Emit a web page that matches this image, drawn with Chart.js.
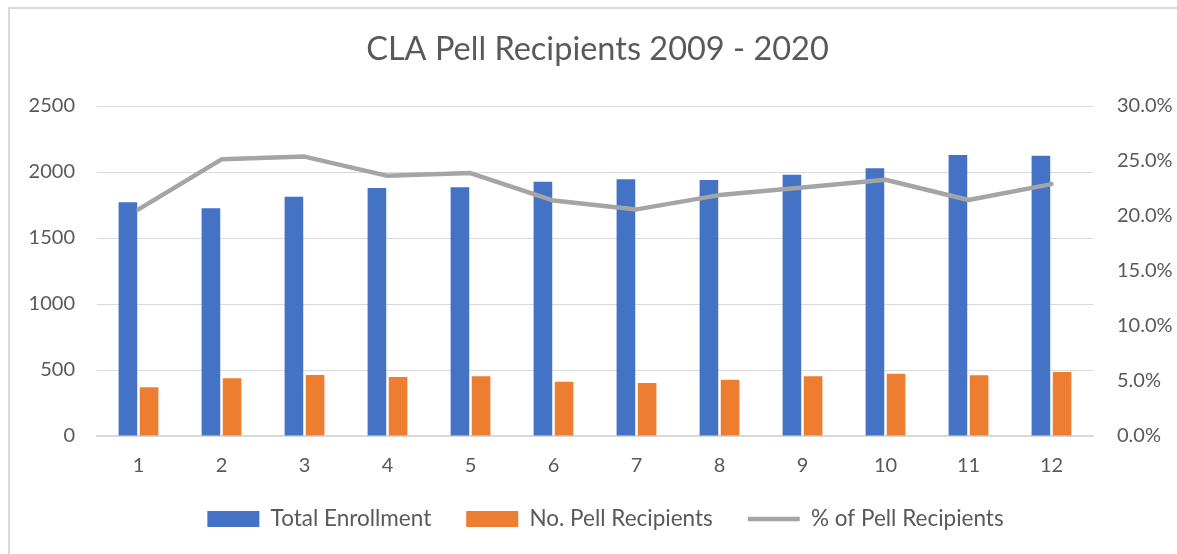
<!DOCTYPE html>
<html>
<head>
<meta charset="utf-8">
<script src="https://cdn.jsdelivr.net/npm/chart.js"></script>
<style>
    html, body { margin: 0; padding: 0; background: #ffffff; }
    #wrap { position: relative; width: 1177px; height: 554px; overflow: hidden; }
    #frame { position: absolute; left: 8px; top: 7px; width: 1300px; height: 700px; border: 2px solid #d9d9d9; box-sizing: border-box; }
    canvas { position: absolute; left: 0; top: 0; }
</style>
</head>
<body>
<div id="wrap">
    <div id="frame"></div>
    <canvas id="Chart1" width="1177" height="554"></canvas>
</div>
<script>
const years = ["1", "2", "3", "4", "5", "6", "7", "8", "9", "10", "11", "12"];
const total_enrollment = [1770, 1725, 1813, 1879, 1884, 1927, 1945, 1939, 1980, 2028, 2129, 2123];
const pell_recipients = [369, 437, 462, 447, 452, 411, 401, 427, 452, 472, 460, 485];
const pell_percent = [20.6, 25.15, 25.4, 23.65, 23.9, 21.4, 20.6, 21.9, 22.6, 23.3, 21.45, 22.9];

const font_family = "Lato, 'Open Sans', sans-serif";
const text_color = "#595959";
const grid_color = "#d9d9d9";

Chart.defaults.font.family = font_family;
Chart.defaults.color = text_color;

// Excel puts title and legend a bit right of the canvas middle, legend a bit higher
const box_shift = {
    id: "box_shift",
    afterLayout(chart) {
        chart.legend.left += 34;
        chart.legend.top -= 13.75;
        chart.legend.bottom -= 13.75;
        chart.titleBlock.left += 18;
    }
};

const ctx = document.getElementById("Chart1").getContext("2d");

new Chart(ctx, {
    type: "bar",
    data: {
        labels: years,
        datasets: [{
            label: "Total Enrollment",
            data: total_enrollment,
            backgroundColor: "#4472c4",
            yAxisID: "y",
            order: 2,
            pointStyle: "rect",
            categoryPercentage: 0.51,
            barPercentage: 0.88,
        }, {
            label: "No. Pell Recipients",
            data: pell_recipients,
            backgroundColor: "#ed7d31",
            yAxisID: "y",
            order: 3,
            pointStyle: "rect",
            categoryPercentage: 0.51,
            barPercentage: 0.88,
        }, {
            type: "line",
            label: "% of Pell Recipients",
            data: pell_percent,
            borderColor: "#a5a5a5",
            backgroundColor: "#a5a5a5",
            borderWidth: 4.5,
            borderCapStyle: "round",
            borderJoinStyle: "round",
            pointRadius: 0,
            pointStyle: "line",
            tension: 0,
            yAxisID: "y1",
            order: 1,
        }]
    },
    plugins: [box_shift],
    options: {
        responsive: false,
        animation: false,
        layout: {
            padding: { left: 0, right: 0, top: 0, bottom: 0 }
        },
        plugins: {
            title: {
                display: true,
                text: "CLA Pell Recipients 2009 - 2020",
                color: text_color,
                font: { size: 32.5, weight: "normal" },
                padding: { top: 30.5, bottom: 36.5 },
            },
            legend: {
                position: "bottom",
                labels: {
                    usePointStyle: true,
                    pointStyleWidth: 52,
                    boxHeight: 16,
                    padding: 35,
                    color: text_color,
                    font: { size: 22.5 },
                    sort: (a, b) => a.datasetIndex - b.datasetIndex,
                }
            },
            tooltip: { enabled: false },
        },
        scales: {
            x: {
                grid: { display: false, drawTicks: false },
                border: { display: true, color: grid_color, width: 2 },
                ticks: { padding: 18, font: { size: 20 }, color: text_color },
                afterFit: (scale) => { scale.height = 50.5; },
            },
            y: {
                position: "left",
                min: 0,
                max: 2500,
                ticks: {
                    stepSize: 500,
                    padding: 22,
                    font: { size: 20 },
                    color: text_color,
                    callback: (v) => String(v),
                },
                grid: { color: grid_color, lineWidth: 1, drawTicks: false },
                border: { display: false },
                afterFit: (scale) => { scale.width = 97; },
            },
            y1: {
                position: "right",
                min: 0,
                max: 30,
                ticks: {
                    stepSize: 5,
                    padding: 24,
                    font: { size: 20 },
                    color: text_color,
                    callback: (v) => v.toFixed(1) + "%",
                },
                grid: { display: false, drawTicks: false },
                border: { display: false },
                afterFit: (scale) => { scale.width = 84; },
            },
        }
    }
});
</script>
</body>
</html>
